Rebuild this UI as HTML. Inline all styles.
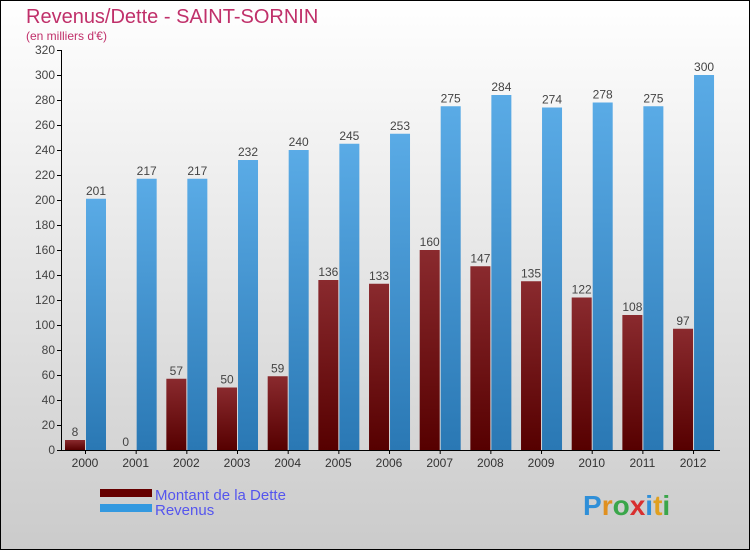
<!DOCTYPE html>
<html><head><meta charset="utf-8"><style>
body{margin:0;}
#wrap{position:relative;width:750px;height:550px;overflow:hidden;}
svg{display:block;font-family:"Liberation Sans",sans-serif;}
</style></head><body>
<div id="wrap">
<svg id="chart" width="750" height="550">
<defs>
<linearGradient id="bg" x1="0" y1="0" x2="0" y2="1"><stop offset="0" stop-color="#ffffff"/><stop offset="1" stop-color="#cbcbcb"/></linearGradient>
<linearGradient id="gd" x1="0" y1="0" x2="0" y2="1"><stop offset="0" stop-color="#8a2a2e"/><stop offset="1" stop-color="#560000"/></linearGradient>
<linearGradient id="gr" x1="0" y1="0" x2="0" y2="1"><stop offset="0" stop-color="#5aabe6"/><stop offset="1" stop-color="#2a78b4"/></linearGradient>
</defs>
<rect x="0.5" y="0.5" width="749" height="549" fill="url(#bg)" stroke="#000"/>
<text x="26" y="23" font-size="20" fill="#c0306a">Revenus/Dette - SAINT-SORNIN</text>
<text x="26" y="40" font-size="12" fill="#c0306a">(en milliers d'€)</text>
<g id="bars"></g>
<g id="axes"></g>
<rect x="100" y="489" width="52" height="8" fill="#660000"/>
<text x="155" y="500" font-size="15" fill="#5555ee">Montant de la Dette</text>
<rect x="100" y="504" width="52" height="8" fill="#3399e0"/>
<text x="155" y="515" font-size="15" fill="#5555ee">Revenus</text>
<text x="583" y="515" font-size="28" font-weight="bold"><tspan fill="#2f8fd8">P</tspan><tspan fill="#e09020">r</tspan><tspan fill="#3aa64a">o</tspan><tspan fill="#d83030">x</tspan><tspan fill="#2f8fd8">i</tspan><tspan fill="#e0a020">t</tspan><tspan fill="#3aa64a">i</tspan></text>
</svg></div>
<script>
const years=["2000","2001","2002","2003","2004","2005","2006","2007","2008","2009","2010","2011","2012"];
const dette=[8,0,57,50,59,136,133,160,147,135,122,108,97];
const revenus=[201,217,217,232,240,245,253,275,284,274,278,275,300];
const yTicks=[0,20,40,60,80,100,120,140,160,180,200,220,240,260,280,300,320];
const NS="http://www.w3.org/2000/svg";
const y=v=>450-v*1.25;
const gx=i=>65+i*50.67;
function mk(t,a,p){const e=document.createElementNS(NS,t);for(const k in a)e.setAttribute(k,a[k]);p.appendChild(e);return e;}
const bars=document.getElementById('bars'),axes=document.getElementById('axes');
years.forEach((yr,i)=>{
 const x=gx(i);
 const b1=mk('rect',{x:x,y:y(dette[i]),width:20,height:Math.max(dette[i]*1.25,1),fill:'url(#gd)'},bars);
 
 
 const b2=mk('rect',{x:x+21,y:y(revenus[i]),width:20,height:revenus[i]*1.25,fill:'url(#gr)'},bars);
 
 
 const t1=mk('text',{x:x+10,y:y(dette[i])-4,'font-size':12,fill:'#444','text-anchor':'middle'},bars);t1.textContent=dette[i];
 
 
 const t2=mk('text',{x:x+31,y:y(revenus[i])-4,'font-size':12,fill:'#444','text-anchor':'middle'},bars);t2.textContent=revenus[i];
 
 
 mk('line',{x1:x+20.5,x2:x+20.5,y1:450,y2:454,stroke:'#000'},axes);
 const xl=mk('text',{x:x+20,y:467,'font-size':12,fill:'#333','text-anchor':'middle'},axes);xl.textContent=yr;
 
 
});
yTicks.forEach(v=>{
 mk('line',{x1:57,x2:61,y1:y(v)+.5,y2:y(v)+.5,stroke:'#000'},axes);
 const t=mk('text',{x:55,y:y(v)+4,'font-size':12,fill:'#444','text-anchor':'end'},axes);t.textContent=v;
 
 
});
const ya=mk('line',{x1:61.5,x2:61.5,y1:50,y2:450,stroke:'#000'},axes);


const xa=mk('line',{x1:61,x2:720,y1:450.5,y2:450.5,stroke:'#000'},axes);


</script>
</body></html>
